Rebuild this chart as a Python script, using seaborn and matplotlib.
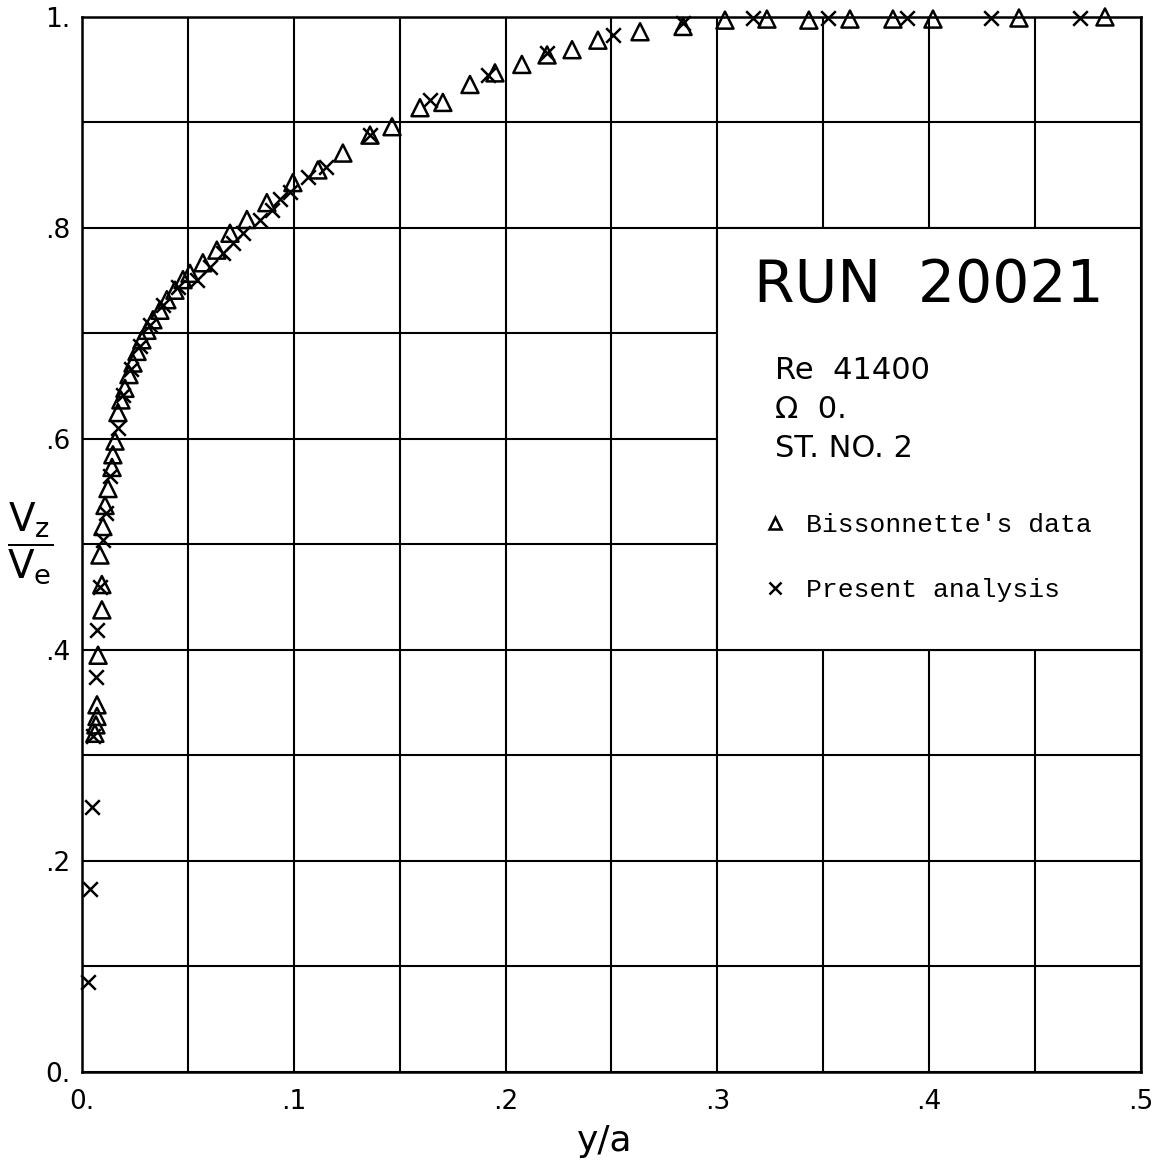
import numpy as np
import pandas as pd
import seaborn as sns
import matplotlib
matplotlib.use("Agg")
import matplotlib.pyplot as plt
from matplotlib.patches import Rectangle
from matplotlib.lines import Line2D

# ---- data ----
bis_x = [0.0061, 0.0066, 0.0071, 0.0071, 0.0076, 0.0094, 0.0094, 0.0085, 0.0099, 0.0109,
         0.0123, 0.0142, 0.0146, 0.0156, 0.0170, 0.0184, 0.0203, 0.0222, 0.0241, 0.0260,
         0.0283, 0.0307, 0.0335, 0.0368, 0.0401, 0.0439, 0.0477, 0.0510, 0.0571, 0.0637,
         0.0699, 0.0779, 0.0873, 0.0996, 0.1114, 0.1232, 0.1360, 0.1464, 0.1596, 0.1704,
         0.1832, 0.1950, 0.2077, 0.2196, 0.2314, 0.2436, 0.2635, 0.2838, 0.3036, 0.3234,
         0.3432, 0.3626, 0.3829, 0.4018, 0.4424, 0.4830]
bis_y = [0.321, 0.329, 0.337, 0.348, 0.395, 0.438, 0.462, 0.490, 0.517, 0.537,
         0.553, 0.573, 0.585, 0.598, 0.625, 0.637, 0.648, 0.661, 0.672, 0.683,
         0.694, 0.703, 0.713, 0.722, 0.732, 0.741, 0.751, 0.757, 0.767, 0.779,
         0.795, 0.808, 0.824, 0.843, 0.855, 0.871, 0.888, 0.896, 0.914, 0.919,
         0.936, 0.947, 0.955, 0.964, 0.969, 0.978, 0.986, 0.991, 0.997, 0.998,
         0.997, 0.998, 0.998, 0.998, 0.999, 1.000]

pa_x = [0.0028, 0.0038, 0.0047, 0.0052, 0.0066, 0.0071, 0.0085, 0.0099, 0.0113, 0.0132,
        0.0170, 0.0193, 0.0231, 0.0272, 0.0320, 0.0385, 0.0455, 0.0543, 0.0604, 0.0666,
        0.0713, 0.0760, 0.0840, 0.0897, 0.0935, 0.0982, 0.1067, 0.1150, 0.1360, 0.1643,
        0.1917, 0.2195, 0.2507, 0.2838, 0.3168, 0.3522, 0.3895, 0.4292, 0.4712]
pa_y = [0.085, 0.173, 0.251, 0.318, 0.374, 0.419, 0.460, 0.504, 0.530, 0.565,
        0.610, 0.642, 0.666, 0.688, 0.708, 0.727, 0.744, 0.751, 0.763, 0.776,
        0.786, 0.795, 0.808, 0.817, 0.827, 0.834, 0.848, 0.858, 0.888, 0.921,
        0.945, 0.966, 0.983, 0.994, 0.999, 0.999, 0.999, 0.999, 0.999]

x_ticks = [0.0, 0.1, 0.2, 0.3, 0.4, 0.5]
x_ticklabels = ["0.", ".1", ".2", ".3", ".4", ".5"]
y_ticks = [0.0, 0.2, 0.4, 0.6, 0.8, 1.0]
y_ticklabels = ["0.", ".2", ".4", ".6", ".8", "1."]

run_title = "RUN  20021"
info_lines = ["Re  41400", "\u03a9  0.", "ST. NO. 2"]
series_names = ["Bissonnette's data", "Present analysis"]

# ---- figure ----
sns.set_theme(style="white")
plt.rcParams["font.family"] = ["DejaVu Sans"]
plt.rcParams["text.color"] = "black"
plt.rcParams["axes.labelcolor"] = "black"
plt.rcParams["xtick.color"] = "black"
plt.rcParams["ytick.color"] = "black"
plt.rcParams["mathtext.default"] = "regular"

fig = plt.figure(figsize=(11.64, 11.62), dpi=100)
ax = fig.add_axes([0.0704, 0.0775, 0.9098, 0.9079])

bis = pd.DataFrame({"x": bis_x, "y": bis_y})
pa = pd.DataFrame({"x": pa_x, "y": pa_y})

sns.scatterplot(data=bis, x="x", y="y", marker="^", s=150, facecolors="none",
                edgecolor="black", linewidth=1.8, ax=ax, zorder=4, clip_on=False)
sns.scatterplot(data=pa, x="x", y="y", marker="x", s=110, color="black",
                linewidth=1.8, ax=ax, zorder=4, clip_on=False)

ax.set_xlim(0, 0.5)
ax.set_ylim(0, 1.0)
ax.set_xticks(np.arange(0.05, 0.5, 0.1), minor=True)
ax.set_yticks(np.arange(0.1, 1.0, 0.2), minor=True)
ax.set_xticks(x_ticks)
ax.set_yticks(y_ticks)
ax.grid(True, which="both", color="black", linewidth=1.5)
ax.set_axisbelow(True)
ax.set_xticklabels(x_ticklabels, fontsize=19)
ax.set_yticklabels(y_ticklabels, fontsize=19)
ax.tick_params(which="both", length=0)
ax.tick_params(axis="x", pad=12)
ax.tick_params(axis="y", pad=8)

for s in ax.spines.values():
    s.set_visible(True)
    s.set_color("black")
    s.set_linewidth(1.8)

ax.set_xlabel("y/a", fontsize=26)
ax.xaxis.set_label_coords(0.494, -0.065)
ax.xaxis.label.set_va("center")
ax.set_ylabel(r"$\dfrac{V_z}{V_e}$", fontsize=28, rotation=0)
ax.yaxis.set_label_coords(-0.049, 0.5)
ax.yaxis.label.set_va("center")
ax.yaxis.label.set_ha("center")

# annotation box
ax.add_patch(Rectangle((0.3, 0.4), 0.2, 0.4, facecolor="white", edgecolor="black",
                       linewidth=1.5, zorder=2))
ax.text(0.4, 0.745, run_title, fontsize=42, ha="center", va="center", zorder=5)
for i, line in enumerate(info_lines):
    ax.text(0.327, 0.665 - i * 0.037, line, fontsize=22, ha="left", va="center", zorder=5)

handles = [
    Line2D([], [], marker="^", linestyle="none", markerfacecolor="none",
           markeredgecolor="black", markersize=8, markeredgewidth=1.8),
    Line2D([], [], marker="x", linestyle="none", color="black",
           markersize=9, markeredgewidth=1.8),
]
leg = ax.legend(handles, series_names, loc="upper left", bbox_to_anchor=(0.3096, 0.552),
                bbox_transform=ax.transData, frameon=False, handletextpad=0.7,
                handlelength=1.0, labelspacing=1.55,
                prop={"family": "Liberation Mono", "size": 19})
leg.set_zorder(6)

fig.savefig("out.png", dpi=100, facecolor="white")
